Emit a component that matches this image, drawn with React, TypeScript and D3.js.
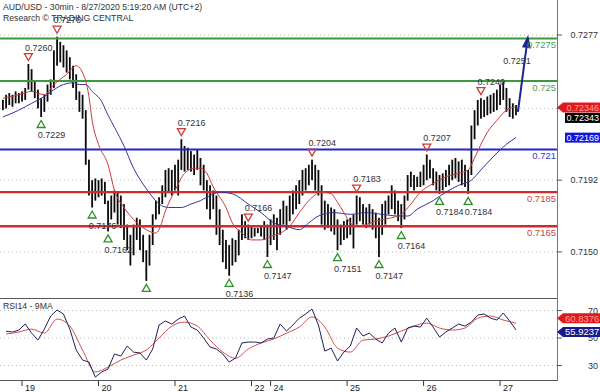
import * as d3 from "d3";

const W = 600;
const H = 392;
const FONT = "'Liberation Sans', Arial, sans-serif";

const title = "AUD/USD - 30min - 8/27/2020 5:19:20 AM (UTC+2)";
const subtitle = "Research © TRADING CENTRAL";

// hourly bars, bar 0 = 18 Aug 18:00 (UTC+2)
const barHigh = [
  0.7239, 0.7242, 0.7243, 0.7242, 0.7244, 0.7243, 0.7244, 0.7246, 0.726, 0.7257,
  0.725, 0.7245, 0.724, 0.7242, 0.7248, 0.7251, 0.7268, 0.7276, 0.7273, 0.7271,
  0.7268, 0.7264, 0.7259, 0.7254, 0.7244, 0.7242, 0.7233, 0.7204, 0.7192, 0.7193,
  0.7192, 0.7193, 0.7191, 0.718, 0.7183, 0.7186, 0.7185, 0.7183, 0.7178, 0.7166,
  0.716, 0.7166, 0.717, 0.7169, 0.716, 0.7151, 0.716, 0.7172, 0.718, 0.7182,
  0.7189, 0.7198, 0.7199, 0.7198, 0.7201, 0.7204, 0.7216, 0.7212, 0.7211, 0.7209,
  0.7207, 0.721, 0.7205, 0.7201, 0.7192, 0.7189, 0.7186, 0.7183, 0.7175, 0.7163,
  0.7157, 0.7154, 0.7158, 0.7157, 0.7163, 0.7172, 0.7168, 0.7166, 0.7165, 0.7164,
  0.7164, 0.7165, 0.7168, 0.7166, 0.7169, 0.7172, 0.717, 0.7175, 0.718, 0.7177,
  0.7183, 0.7186, 0.7189, 0.7192, 0.7198, 0.7199, 0.7201, 0.7204, 0.7201, 0.7198,
  0.7189, 0.718, 0.7178, 0.7176, 0.7175, 0.7169, 0.7166, 0.7168, 0.7169, 0.717,
  0.7172, 0.7183, 0.7182, 0.7178, 0.7176, 0.7178, 0.7175, 0.7173, 0.717, 0.7178,
  0.718, 0.7183, 0.7189, 0.7186, 0.718, 0.7178, 0.7183, 0.7195, 0.7197, 0.7195,
  0.7194, 0.7197, 0.7201, 0.7207, 0.7204, 0.7199, 0.7197, 0.7195, 0.7196, 0.7198,
  0.7201, 0.7204, 0.7205, 0.7203, 0.7204, 0.7201, 0.7198, 0.7224, 0.7233, 0.7239,
  0.724, 0.7239, 0.7241, 0.7242, 0.7243, 0.7245, 0.7248, 0.725, 0.7246, 0.724,
  0.7237, 0.7236,
];
const barLow = [
  0.7233, 0.7234, 0.7236, 0.7235, 0.7237, 0.7237, 0.7238, 0.7239, 0.7245, 0.7244,
  0.724, 0.7234, 0.7229, 0.7232, 0.7238, 0.7242, 0.7246, 0.7259, 0.7261, 0.7258,
  0.7255, 0.7251, 0.7246, 0.7239, 0.7232, 0.7228, 0.7201, 0.7183, 0.7176, 0.718,
  0.7182, 0.7183, 0.7178, 0.7162, 0.7169, 0.7173, 0.7166, 0.7164, 0.7157, 0.7151,
  0.7142, 0.7148, 0.7157, 0.7151, 0.7144, 0.7133, 0.7142, 0.7154, 0.7169, 0.7172,
  0.7178, 0.7182, 0.7185, 0.7183, 0.7186, 0.7183, 0.7198, 0.7197, 0.7198, 0.7197,
  0.7195, 0.7198, 0.7189, 0.7186, 0.7175, 0.7169, 0.7175, 0.716, 0.7154, 0.7144,
  0.714, 0.7136, 0.7142, 0.7144, 0.7148, 0.7157, 0.7158, 0.7157, 0.7158, 0.7159,
  0.7161, 0.7159, 0.7157, 0.7147, 0.7154, 0.7157, 0.7151, 0.716, 0.7166, 0.7163,
  0.7168, 0.7172, 0.7175, 0.7178, 0.7183, 0.7186, 0.7189, 0.7192, 0.7186, 0.7183,
  0.7166, 0.7163, 0.7164, 0.7162, 0.716, 0.7151, 0.7154, 0.7157, 0.7158, 0.716,
  0.7152, 0.7166, 0.7168, 0.7166, 0.7164, 0.7166, 0.7163, 0.7158, 0.7147, 0.716,
  0.7166, 0.7172, 0.7175, 0.7172, 0.7168, 0.7164, 0.7169, 0.718, 0.7188, 0.7186,
  0.7188, 0.7188, 0.7189, 0.7192, 0.7193, 0.7189, 0.7186, 0.7184, 0.7186, 0.7188,
  0.7189, 0.7192, 0.7193, 0.7191, 0.7189, 0.7188, 0.7184, 0.7195, 0.7216, 0.7224,
  0.7228, 0.7229, 0.723, 0.7231, 0.7232, 0.7233, 0.7236, 0.7239, 0.7232, 0.7229,
  0.7228, 0.723,
];

// moving averages, [bar, price]
const maFast: [number, number][] = [
  [0, 0.724], [5, 0.7242], [9, 0.7244], [13, 0.7242], [16, 0.7248], [20, 0.7254],
  [23, 0.7259], [26, 0.725], [27, 0.7241], [28, 0.7227], [30, 0.7213], [33, 0.7201],
  [35, 0.7186], [38, 0.7176], [41, 0.7169], [45, 0.7163], [48, 0.7161], [49, 0.7163],
  [51, 0.7174], [54, 0.7186], [57, 0.7196], [60, 0.7199], [62, 0.7199], [64, 0.7196],
  [66, 0.7188], [70, 0.7176], [72, 0.7167], [75, 0.7161], [78, 0.7157], [81, 0.7157],
  [84, 0.7159], [87, 0.7161], [90, 0.7165], [93, 0.7173], [96, 0.718], [100, 0.7185],
  [103, 0.7184], [105, 0.7179], [107, 0.7173], [109, 0.7167], [111, 0.7165],
  [114, 0.7166], [117, 0.7168], [122, 0.717], [125, 0.7172], [128, 0.7178],
  [131, 0.7185], [135, 0.719], [139, 0.7194], [143, 0.7196], [146, 0.7198],
  [148, 0.7205], [150, 0.7213], [152, 0.722], [155, 0.7227], [158, 0.7233], [161, 0.7235],
];
const maSlow: [number, number][] = [
  [0, 0.7229], [5, 0.7233], [9, 0.7237], [13, 0.7241], [16, 0.7245], [19, 0.7248],
  [22, 0.7249], [24, 0.7248], [26, 0.7248], [28, 0.7244], [31, 0.7238], [33, 0.723],
  [35, 0.7223], [38, 0.7212], [41, 0.7199], [45, 0.7187], [47, 0.7182], [49, 0.7178],
  [52, 0.7176], [56, 0.7176], [59, 0.7178], [62, 0.718], [65, 0.7183], [68, 0.7185],
  [72, 0.7184], [77, 0.7178], [81, 0.7173], [85, 0.7167], [89, 0.7165], [93, 0.7163],
  [96, 0.7167], [99, 0.7171], [104, 0.7173], [109, 0.7172], [114, 0.7173],
  [119, 0.7172], [124, 0.7171], [127, 0.7171], [130, 0.7175], [135, 0.718],
  [139, 0.7185], [143, 0.7189], [147, 0.7192], [150, 0.7198], [154, 0.7206],
  [158, 0.7213], [161, 0.7217],
];

// RSI14 every other bar (bars 1,3,...,161), its 9MA every 4th bar (1,5,...,161)
const rsi14 = [
  54.9, 54.4, 55.8, 60.2, 53.6, 48.5, 56.5, 66.0, 70.4, 67.5,
  56.5, 41.3, 34.0, 32.5, 21.6, 25.3, 27.5, 38.4, 36.9, 44.2,
  39.8, 39.1, 34.0, 42.0, 59.5, 62.4, 60.2, 63.8, 66.0, 58.0,
  55.8, 50.0, 43.5, 42.0, 38.4, 32.5, 35.5, 46.4, 47.1, 47.1,
  46.4, 49.3, 50.0, 60.2, 55.1, 59.5, 64.5, 67.5, 71.1, 59.5,
  40.5, 42.7, 33.3, 39.8, 44.2, 57.3, 51.5, 53.6, 49.3, 46.4,
  53.6, 57.3, 47.1, 57.3, 58.7, 58.0, 64.5, 58.0, 50.7, 54.4,
  57.3, 60.2, 58.7, 61.6, 66.7, 67.5, 64.5, 63.1, 68.2, 62.4, 55.9,
];
const rsiMa9 = [
  52.9, 54.4, 56.5, 53.6, 63.8, 58.7, 41.3, 25.3, 28.9, 34.0,
  37.6, 41.3, 50.0, 58.7, 61.6, 58.7, 48.5, 39.8, 35.3, 42.0,
  46.4, 49.3, 53.6, 58.0, 65.3, 58.0, 42.7, 39.8, 48.5, 49.3,
  51.5, 55.1, 58.7, 60.9, 57.3, 55.8, 57.3, 64.5, 66.0, 63.1, 60.8,
];

const dayStartBars = [6, 30, 54, 78, 84, 108, 132, 156];
const dayLabels = ["19", "20", "21", "22", "24", "25", "26", "27"];

const priceTicks = [0.715, 0.7192, 0.7234, 0.7277];
// the 0.7234 label sits under the value tags
const priceTickShown = [true, true, false, true];
const rsiTicks = [30, 50, 70];

const levelValues = [0.7275, 0.725, 0.721, 0.7185, 0.7165];
const levelLabels = ["0.7275", "0.725", "0.721", "0.7185", "0.7165"];
const levelKinds = ["res", "res", "pivot", "sup", "sup"];

const peakBars = [8, 17, 56, 77, 97, 111, 133, 150];
const peakValues = [0.726, 0.7276, 0.7216, 0.7166, 0.7204, 0.7183, 0.7207, 0.724];
const troughBars = [12, 28, 33, 45, 71, 83, 105, 118, 125, 137, 146];
const troughValues = [0.7229, 0.7176, 0.7162, 0.7133, 0.7136, 0.7147, 0.7151, 0.7147, 0.7164, 0.7184, 0.7184];

const lastPrice = 0.72343;
const fastMaLast = 0.72346;
const slowMaLast = 0.72169;
const rsiLast = 55.9237;
const rsiMaLast = 60.8376;

const arrowFrom: [number, number] = [161.6, 0.7232];
const arrowTo: [number, number] = [164.8, 0.7277];
const arrowTarget = "0.7251";

const levelColor: Record<string, string> = { res: "#3d993d", pivot: "#2424d2", sup: "#d22a2a" };
const levelText: Record<string, string> = { res: "#4f9e4f", pivot: "#3a3ac8", sup: "#cc4444" };

const App = () => {
  const plotRight = 557;
  const mainBottom = 298;
  const rsiTop = 299;
  const rsiBottom = 380;

  const x = d3.scaleLinear().domain([0, 161]).range([2.9, 516]);
  const y = d3.scaleLinear().domain([0.7123, 0.72975]).range([mainBottom, 0]);
  const ry = d3.scaleLinear().domain([19.5, 78.4]).range([rsiBottom, rsiTop]);

  const maLine = d3
    .line<[number, number]>()
    .x((d) => x(d[0]))
    .y((d) => y(d[1]))
    .curve(d3.curveMonotoneX);
  const rsiLine = d3
    .line<number>()
    .x((_, k) => x(1 + 2 * k))
    .y((d) => ry(d));
  const rsiMaLine = d3
    .line<number>()
    .x((_, k) => x(1 + 4 * k))
    .y((d) => ry(d))
    .curve(d3.curveMonotoneX);

  // arrow
  const ax0 = x(arrowFrom[0]);
  const ay0 = y(arrowFrom[1]);
  const ax1 = x(arrowTo[0]);
  const ay1 = y(arrowTo[1]);
  const ang = Math.atan2(ay1 - ay0, ax1 - ax0);
  const headLen = 13;
  const headW = 4.5;
  const bx = ax1 - headLen * Math.cos(ang);
  const by = ay1 - headLen * Math.sin(ang);
  const head = [
    [ax1, ay1],
    [bx + headW * Math.sin(ang), by - headW * Math.cos(ang)],
    [bx - headW * Math.sin(ang), by + headW * Math.cos(ang)],
  ]
    .map((p) => p.join(","))
    .join(" ");

  const tag = (yc: number, h = 10) =>
    `M${plotRight},${yc} L${plotRight + 6},${yc - h / 2} L${W},${yc - h / 2} L${W},${yc + h / 2} L${plotRight + 6},${yc + h / 2} Z`;

  return (
    <svg
      width={W}
      height={H}
      style={{ position: "absolute", left: 0, top: 0, background: "#fff" }}
      fontFamily={FONT}
    >
      <defs>
        <clipPath id="mainClip">
          <rect x={0} y={0} width={plotRight} height={mainBottom} />
        </clipPath>
        <clipPath id="rsiClip">
          <rect x={0} y={rsiTop} width={plotRight} height={rsiBottom - rsiTop} />
        </clipPath>
      </defs>

      <g clipPath="url(#mainClip)">
        {priceTicks.map((t) => (
          <line
            key={t}
            x1={0}
            x2={plotRight}
            y1={y(t)}
            y2={y(t)}
            stroke="#b8b8b8"
            strokeDasharray="1 3"
          />
        ))}

        {barHigh.map((hi, i) => (
          <rect
            key={i}
            x={x(i) - 0.9}
            y={y(hi)}
            width={1.8}
            height={Math.max(1, y(barLow[i]) - y(hi))}
            fill="#0a0a0a"
          />
        ))}

        {levelValues.map((v, i) => (
          <line
            key={v}
            x1={0}
            x2={plotRight}
            y1={y(v)}
            y2={y(v)}
            stroke={levelColor[levelKinds[i]]}
            strokeWidth={levelKinds[i] === "sup" ? 2.4 : 2}
          />
        ))}

        <path d={maLine(maSlow) ?? ""} fill="none" stroke="#34349e" strokeWidth={1} />
        <path d={maLine(maFast) ?? ""} fill="none" stroke="#cc3a3a" strokeWidth={1} />

        {peakBars.map((b, i) => {
          const cx = x(b);
          const cy = y(peakValues[i]) - 7;
          return (
            <g key={`p${b}`}>
              <polygon
                points={`${cx - 4},${cy - 3.5} ${cx + 4},${cy - 3.5} ${cx},${cy + 3.5}`}
                fill="none"
                stroke="#d03c3c"
                strokeWidth={1.3}
              />
              <text x={cx - 3.5} y={cy - 6.5} fontSize={9} fill="#333">
                {peakValues[i].toFixed(4)}
              </text>
            </g>
          );
        })}
        {troughBars.map((b, i) => {
          const cx = x(b);
          const cy = y(troughValues[i]) + 7;
          return (
            <g key={`t${b}`}>
              <polygon
                points={`${cx - 4},${cy + 3.5} ${cx + 4},${cy + 3.5} ${cx},${cy - 3.5}`}
                fill="none"
                stroke="#2f8f2f"
                strokeWidth={1.3}
              />
              {cy + 14.5 < mainBottom && (
                <text x={cx - 3.5} y={cy + 14.5} fontSize={9} fill="#333">
                  {troughValues[i].toFixed(4)}
                </text>
              )}
            </g>
          );
        })}

        <line x1={ax0} y1={ay0} x2={bx} y2={by} stroke="#1b2690" strokeWidth={2} />
        <polygon points={head} fill="#1b2690" />
        <text x={x(161.3)} y={y(0.7262) + 3.5} fontSize={9} fill="#333" textAnchor="middle">
          {arrowTarget}
        </text>

        {levelValues.map((v, i) => (
          <text
            key={`l${v}`}
            x={plotRight - 1}
            y={y(v) + 10}
            fontSize={9.5}
            textAnchor="end"
            fill={levelText[levelKinds[i]]}
          >
            {levelLabels[i]}
          </text>
        ))}
      </g>

      <text x={3} y={9.5} fontSize={8.7} fill="#333">
        {title}
      </text>
      <text x={3} y={20.5} fontSize={8.7} fill="#333">
        {subtitle}
      </text>

      {/* RSI panel */}
      <g clipPath="url(#rsiClip)">
        {rsiTicks.map((t) => (
          <line
            key={t}
            x1={0}
            x2={plotRight}
            y1={ry(t)}
            y2={ry(t)}
            stroke="#b8b8b8"
            strokeDasharray="1 3"
          />
        ))}
        <path d={rsiMaLine(rsiMa9) ?? ""} fill="none" stroke="#d05050" strokeWidth={1} />
        <path d={rsiLine(rsi14) ?? ""} fill="none" stroke="#20205e" strokeWidth={1} />
      </g>
      <text x={3} y={308.5} fontSize={8.7} fill="#333">
        RSI14 - 9MA
      </text>

      {/* frame */}
      <line x1={0} x2={plotRight} y1={mainBottom + 0.5} y2={mainBottom + 0.5} stroke="#555" />
      <line x1={0} x2={plotRight} y1={rsiBottom + 0.5} y2={rsiBottom + 0.5} stroke="#555" />
      <line x1={plotRight + 0.5} x2={plotRight + 0.5} y1={0} y2={rsiBottom + 1} stroke="#777" />

      {/* right price axis */}
      {priceTicks.map((t, i) => (
        <g key={`pt${t}`}>
          <line x1={plotRight} x2={plotRight + 5} y1={y(t)} y2={y(t)} stroke="#555" />
          {priceTickShown[i] && (
            <text x={598} y={y(t) + 3.2} fontSize={9} textAnchor="end" fill="#333">
              {t.toFixed(4)}
            </text>
          )}
        </g>
      ))}
      {rsiTicks.map((t) => (
        <g key={`rt${t}`}>
          <line x1={plotRight} x2={plotRight + 5} y1={ry(t)} y2={ry(t)} stroke="#555" />
          <text x={598} y={ry(t) + 3.2} fontSize={9} textAnchor="end" fill="#333">
            {t}
          </text>
        </g>
      ))}

      {/* value tags */}
      <path d={tag(y(fastMaLast))} fill="#e01a1a" />
      <text x={566.5} y={y(fastMaLast) + 3.2} fontSize={9} fill="#ff9f9f">
        {fastMaLast.toFixed(5)}
      </text>
      <rect x={565} y={y(lastPrice) + 5} width={35} height={10} fill="#000" />
      <text x={566.5} y={y(lastPrice) + 13.3} fontSize={9} fill="#fff">
        {lastPrice.toFixed(5)}
      </text>
      <rect x={565} y={y(slowMaLast) - 5} width={35} height={10} fill="#1414e0" />
      <text x={566.5} y={y(slowMaLast) + 3.2} fontSize={9} fill="#fff">
        {slowMaLast.toFixed(5)}
      </text>

      <path d={tag(ry(rsiMaLast) - 5)} fill="#e01a1a" />
      <text x={565} y={ry(rsiMaLast) - 5 + 3.4} fontSize={9.5} fill="#ff9f9f">
        {rsiMaLast.toFixed(4)}
      </text>
      <path d={tag(ry(rsiLast) + 2)} fill="#1a1a8c" />
      <text x={565} y={ry(rsiLast) + 2 + 3.4} fontSize={9.5} fill="#fff">
        {rsiLast.toFixed(4)}
      </text>

      {/* day axis */}
      {dayStartBars.map((b, i) => (
        <g key={`d${b}`}>
          <line x1={x(b)} x2={x(b)} y1={rsiBottom + 1} y2={rsiBottom + 6} stroke="#333" />
          <text x={x(b) + 3} y={390.5} fontSize={9} fill="#222">
            {dayLabels[i]}
          </text>
        </g>
      ))}
    </svg>
  );
};

export default App;
